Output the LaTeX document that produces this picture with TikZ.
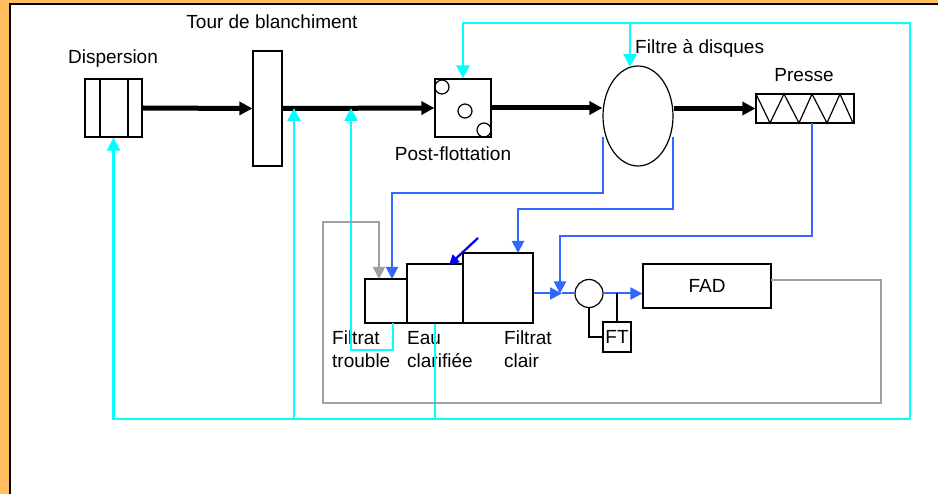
\documentclass[tikz,border=0pt]{standalone}
\usepackage{fontspec}
\setmainfont{Liberation Sans}
\usetikzlibrary{arrows.meta,shapes.geometric,calc}
\definecolor{bgorange}{HTML}{FFBF5F}
\definecolor{cyanl}{HTML}{00FFFF}
\definecolor{bluel}{HTML}{3366FF}
\definecolor{dblue}{HTML}{0000EE}
\definecolor{grayl}{HTML}{A0A0A0}
\begin{document}
\begin{tikzpicture}[x=1pt,y=-1pt,
  font=\fontsize{19}{22.7}\selectfont,
  eqbox/.style={draw, line width=1.2pt, inner sep=0pt},
  tip/.style={-{Triangle[length=13pt,width=13pt]}},
  mainflow/.style={line width=5pt, tip},
  cyl/.style={cyanl, line width=2.5pt},
  cyarr/.style={cyl, tip},
  bl/.style={bluel, line width=2pt},
  blarr/.style={bl, -{Triangle[length=12pt,width=12pt]}},
  grarr/.style={grayl, line width=1.6pt, -{Triangle[length=12pt,width=12pt]}},
  dbarr/.style={dblue, line width=2.2pt, -{Triangle[length=10pt,width=10pt]}},
  blk/.style={black, line width=1.2pt},
  lbl/.style={inner sep=0pt, anchor=base},
  lblw/.style={inner sep=0pt, anchor=base west, align=left}]
\useasboundingbox (0,0) rectangle (938,494);
% frame
\fill[bgorange] (0,0) rectangle (938,494);
\fill[white] (10,4) rectangle (938,494);
\draw[black, line width=2.5pt] (10,494) -- (10,4) -- (938,4);

% equipment
\node[eqbox, minimum width=57pt, minimum height=58pt] (disp) at (113.5,108) {};
\draw[blk] (100,79) -- (100,137) (128,79) -- (128,137);
\node[eqbox, minimum width=29pt, minimum height=115pt] (tour) at (267.5,108.5) {};
\node[eqbox, minimum width=56pt, minimum height=58pt] (post) at (463,108) {};
\draw[blk] (442,87) circle (7) (465,111) circle (7) (484,130) circle (7);
\node[draw, ellipse, line width=1.2pt, inner sep=0pt, minimum width=70pt, minimum height=100pt] (filtre) at (638,116) {};
\node[eqbox, minimum width=98pt, minimum height=29pt] (presse) at (805,108.5) {};
\draw[blk] (756,94) -- (770,123) -- (784,94) -- (799,123) -- (812,94) -- (827,123) -- (840,94) -- (853,123);

\node[eqbox, minimum width=42pt, minimum height=44pt] (trouble) at (386,301) {};
\node[eqbox, minimum width=56pt, minimum height=59pt] (eau) at (435,293.5) {};
\node[eqbox, minimum width=70pt, minimum height=70pt] (clair) at (498,288) {};
\node[draw, circle, line width=1.2pt, inner sep=0pt, minimum size=28pt] (pump) at (589,293.5) {};
\node[eqbox, minimum width=128pt, minimum height=44pt] (fad) at (707,286) {FAD};
\node[eqbox, minimum width=28pt, minimum height=30pt] (ftb) at (617,337) {FT};

% labels
\node[lbl] (ltour) at (272,28.5) {Tour de blanchiment};
\node[lbl] (ldisp) at (113,64) {Dispersion};
\node[lbl] (lpost) at (453,160.5) {Post-flottation};
\node[lblw] (lfiltre) at (635,53.3) {Filtre à disques};
\node[lbl] (lpresse) at (804,81.7) {Presse};
\node[lblw] (ltrouble) at (332,367.7) {Filtrat\\trouble};
\node[lblw] (leau) at (407,367.7) {Eau\\clarifiée};
\node[lblw] (lclair) at (504,367.7) {Filtrat\\clair};

% main flow
\draw[mainflow] (disp.east) -- (tour.west);
\draw[mainflow] (tour.east) -- (post.west);
\draw[mainflow] (post.east) -- (post.east -| filtre.west);
\draw[mainflow] (presse.west -| filtre.east) -- (presse.west);

% cyan water loops
\coordinate (cr) at (910,419);
\coordinate (ctop) at (910,23);
\coordinate (fa) at (630,23);
\draw[cyarr] (cr) -- (ctop) -| (post.north);
\draw[cyarr] (fa) -- (630,67);
\draw[cyarr] (cr) -| (disp.south);
\coordinate (c294) at (294,419);
\draw[cyarr] (c294) -- (294,108);
\draw[cyarr] (393,323) -- (393,350) -- (351,350) -- (351,108);
\draw[cyanl, line width=1.3pt] (eau.south) -- (eau.south |- cr);

% blue filtrate lines
\draw[blarr] (603,137) -- (603,193) -- (392,193) -- (392,279);
\draw[blarr] (673,137) -- (673,209) -- (518,209) -- (518,253);
\draw[blarr] (812,123) -- (812,236) -- (560,236) -- (560,293.5);
\coordinate (jn) at (562,293.5);
\draw[blarr] (clair.east |- pump.west) -- (jn);
\draw[bl] (jn) -- (pump.west);
\draw[blarr] (pump.east) -- (fad.west |- pump.east);
\draw[dbarr] (478,238) -- (449,265);

% instrument
\draw[blk] (pump.south) |- (ftb.west);
\draw[blk] (ftb.north |- pump.east) -- (ftb.north);

% gray return
\draw[grarr] (771,280) -- (881,280) -- (881,403) -- (323,403) -- (323,222) -- (379,222) -- (379,279);
\end{tikzpicture}
\end{document}
